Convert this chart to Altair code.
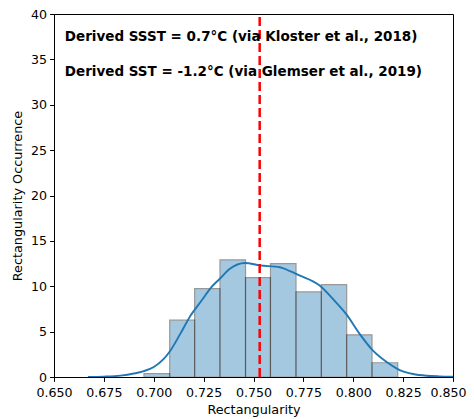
import altair as alt
import pandas as pd

# Histogram (density-normalised)
bin_edges = [0.6951, 0.7080, 0.7205, 0.7332, 0.7460, 0.7585, 0.7713, 0.7840, 0.7967, 0.8094, 0.8223]
bin_heights = [0.37, 6.26, 9.74, 12.9, 10.94, 12.5, 9.37, 10.18, 4.65, 1.57]

# KDE curve
kde_x = [0.667, 0.675, 0.6833, 0.690, 0.695, 0.700, 0.705, 0.7083, 0.7133, 0.7184,
         0.7239, 0.7285, 0.733, 0.738, 0.7457, 0.7532, 0.7632, 0.768, 0.773, 0.783,
         0.7898, 0.7966, 0.8032, 0.8099, 0.8166, 0.8233, 0.830, 0.8367, 0.843, 0.850]
kde_y = [0.0, 0.04, 0.15, 0.38, 0.65, 1.1, 2.0, 2.9, 4.75, 6.75,
         8.4, 9.8, 10.8, 11.9, 12.57, 12.3, 12.1, 11.7, 11.2, 10.1,
         8.6, 6.9, 4.75, 2.9, 1.67, 0.76, 0.33, 0.14, 0.07, 0.04]

mean_value = 0.7531
x_ticks = [0.650, 0.675, 0.700, 0.725, 0.750, 0.775, 0.800, 0.825, 0.850]
y_ticks = [0, 5, 10, 15, 20, 25, 30, 35, 40]

note_x = [0.6554, 0.6554]
note_y = [37.5, 33.6]
note_text = ["Derived SSST = 0.7°C (via Kloster et al., 2018)",
             "Derived SST = -1.2°C (via Glemser et al., 2019)"]

title_text = "PC490-6-4 cm Rectangularity"

hist_df = pd.DataFrame({"x0": bin_edges[:-1], "x1": bin_edges[1:], "h": bin_heights})
kde_df = pd.DataFrame({"x": kde_x, "y": kde_y})
line_df = pd.DataFrame({"x": [mean_value]})
note_df = pd.DataFrame({"x": note_x, "y": note_y, "t": note_text})

FONT = "DejaVu Sans"
xscale = alt.Scale(domain=[0.65, 0.85], nice=False, zero=False)
yscale = alt.Scale(domain=[0, 40], nice=False)

xaxis = alt.Axis(values=x_ticks, format=".3f", title="Rectangularity", grid=False,
                 labelOverlap=False, labelFlush=False, labelPadding=5,
                 labelOffset=alt.condition("datum.value >= 0.849", alt.value(-5), alt.value(0)))
yaxis = alt.Axis(values=y_ticks, format="d", title="Rectangularity Occurrence", grid=False,
                 labelOverlap=False, labelFlush=False, labelPadding=3)

bars = alt.Chart(hist_df).mark_rect(
    fill="#1f77b4", stroke="black", strokeWidth=1.2, opacity=0.4
).encode(
    x=alt.X("x0:Q", scale=xscale, axis=xaxis),
    x2="x1:Q",
    y=alt.Y("h:Q", scale=yscale, axis=yaxis),
    y2=alt.datum(0),
)

kde = alt.Chart(kde_df).mark_line(
    color="#1f77b4", strokeWidth=1.9, interpolate="monotone", clip=True
).encode(x="x:Q", y="y:Q")

vline = alt.Chart(line_df).mark_rule(
    color="red", strokeWidth=2.5, strokeDash=[9, 4]
).encode(x="x:Q", y=alt.datum(0), y2=alt.datum(40))

notes = alt.Chart(note_df).mark_text(
    align="left", baseline="middle", font=FONT, fontSize=13.5, fontWeight="bold", color="black"
).encode(x="x:Q", y="y:Q", text="t:N")

chart = alt.layer(bars, kde, vline, notes).properties(
    width=399,
    height=363,
    title=alt.TitleParams(title_text, font=FONT, fontSize=15, fontWeight="normal", color="black", offset=1),
    autosize=alt.AutoSizeParams(type="none"),
    padding={"left": 46, "top": 6, "right": 13, "bottom": 40},
).configure_view(
    stroke="black", strokeWidth=1
).configure_axis(
    labelFont=FONT, titleFont=FONT, labelFontSize=12.6, titleFontSize=12.8,
    labelColor="black", titleColor="black", titleFontWeight="normal",
    domainColor="black", tickColor="black", tickSize=4.4, tickWidth=1, domainWidth=1,
).configure_axisX(titlePadding=4).configure_axisY(titlePadding=6)

chart.save("out.html", embed_options={"renderer": "svg", "actions": False})
